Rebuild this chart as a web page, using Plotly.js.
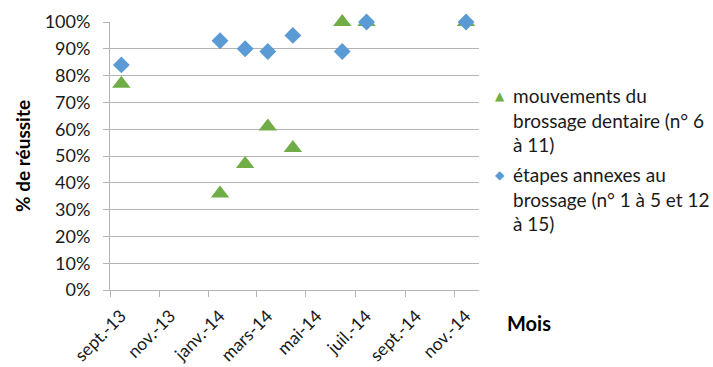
<!DOCTYPE html>
<html>
<head>
<meta charset="utf-8">
<script src="https://cdn.plot.ly/plotly-3.0.1.min.js"></script>
<style>
  html, body { margin: 0; padding: 0; background: #fff; }
  #chart { width: 713px; height: 367px; }
</style>
</head>
<body>
<div id="chart"></div>
<script>
// Session dates (mid-month) and success rates per group of steps
const datesMouvements = ['2013-09-15', '2014-01-15', '2014-02-15', '2014-03-15', '2014-04-15', '2014-06-15', '2014-07-15', '2014-11-15'];
const valMouvements   = [0.77, 0.36, 0.47, 0.61, 0.53, 1.00, 1.00, 1.00];

const datesAnnexes = ['2013-09-15', '2014-01-15', '2014-02-15', '2014-03-15', '2014-04-15', '2014-06-15', '2014-07-15', '2014-11-15'];
const valAnnexes   = [0.84, 0.93, 0.90, 0.89, 0.95, 0.89, 1.00, 1.00];

const nameMouvements = 'mouvements du<br>brossage dentaire (n° 6<br>à 11)';
const nameAnnexes    = 'étapes annexes au<br>brossage (n° 1 à 5 et 12<br>à 15)';

const tickDates  = ['2013-09-01', '2013-11-01', '2014-01-01', '2014-03-01', '2014-05-01', '2014-07-01', '2014-09-01', '2014-11-01'];
const tickLabels = ['sept.-13', 'nov.-13', 'janv.-14', 'mars-14', 'mai-14', 'juil.-14', 'sept.-14', 'nov.-14'];

const FONT = 'Lato, "Liberation Sans", sans-serif';
const GRID = '#b4b4b4';
const TEXT = '#1a1a1a';
const GREEN = '#70ad47';
const BLUE = '#5b9bd5';

const traces = [
  {
    x: datesMouvements, y: valMouvements, name: nameMouvements,
    type: 'scatter', mode: 'markers', cliponaxis: false,
    marker: { symbol: 'triangle-up', size: 16, color: GREEN }
  },
  {
    x: datesAnnexes, y: valAnnexes, name: nameAnnexes,
    type: 'scatter', mode: 'markers', cliponaxis: false,
    marker: { symbol: 'diamond', size: 13, color: BLUE }
  }
];

// Legend drawn as annotations so the wrapped labels sit right of the plot
// without Plotly shrinking the plotting area.
function legendEntry(symbol, color, label, yPx) {
  const yPaper = (290 - yPx) / 268;
  return [
    {
      text: symbol, xref: 'paper', yref: 'paper',
      x: (500 - 110) / 369, y: yPaper, xanchor: 'center', yanchor: 'middle',
      showarrow: false, font: { family: 'DejaVu Sans', size: 12, color: color }
    },
    {
      text: label, xref: 'paper', yref: 'paper', align: 'left',
      x: (511 - 110) / 369, y: yPaper, xanchor: 'left', yanchor: 'top',
      yshift: 14, showarrow: false,
      font: { family: FONT, size: 19, color: TEXT }
    }
  ];
}

const layout = {
  width: 713, height: 367,
  margin: { l: 110, r: 234, t: 22, b: 77 },
  paper_bgcolor: '#fff', plot_bgcolor: '#fff',
  font: { family: FONT, size: 18, color: TEXT },
  showlegend: false,
  xaxis: {
    type: 'date',
    range: ['2013-09-01', '2014-12-01'],
    tickmode: 'array', tickvals: tickDates, ticktext: tickLabels,
    tickangle: -45, ticks: 'outside', ticklen: 6, tickcolor: GRID, tickwidth: 1,
    ticklabelshift: 11, ticklabelstandoff: 2,
    showgrid: false, zeroline: false,
    showline: true, linecolor: GRID, linewidth: 1,
    tickfont: { family: FONT, size: 17.5, color: TEXT },
    automargin: false
  },
  yaxis: {
    range: [0, 1], dtick: 0.1, tick0: 0, tickformat: '.0%',
    ticks: 'outside', ticklen: 6, tickcolor: GRID, tickwidth: 1,
    ticklabelstandoff: 9,
    showgrid: true, gridcolor: GRID, gridwidth: 1, zeroline: false,
    showline: true, linecolor: GRID, linewidth: 1,
    tickfont: { family: FONT, size: 18, color: TEXT },
    automargin: false
  },
  annotations: [
    {
      text: '<b>% de réussite</b>', xref: 'paper', yref: 'paper',
      x: (22 - 110) / 369, y: 0.5, xanchor: 'center', yanchor: 'middle',
      textangle: -90, showarrow: false,
      font: { family: FONT, size: 19, color: '#000' }
    },
    {
      text: '<b>Mois</b>', xref: 'paper', yref: 'paper',
      x: (505 - 110) / 369, y: (290 - 323) / 268, xanchor: 'left', yanchor: 'middle',
      showarrow: false,
      font: { family: FONT, size: 20, color: '#000' }
    },
    ...legendEntry('▲', GREEN, nameMouvements, 96),
    ...legendEntry('◆', BLUE, nameAnnexes, 175)
  ]
};

Plotly.newPlot('chart', traces, layout, { displayModeBar: false, staticPlot: true });
</script>
</body>
</html>
